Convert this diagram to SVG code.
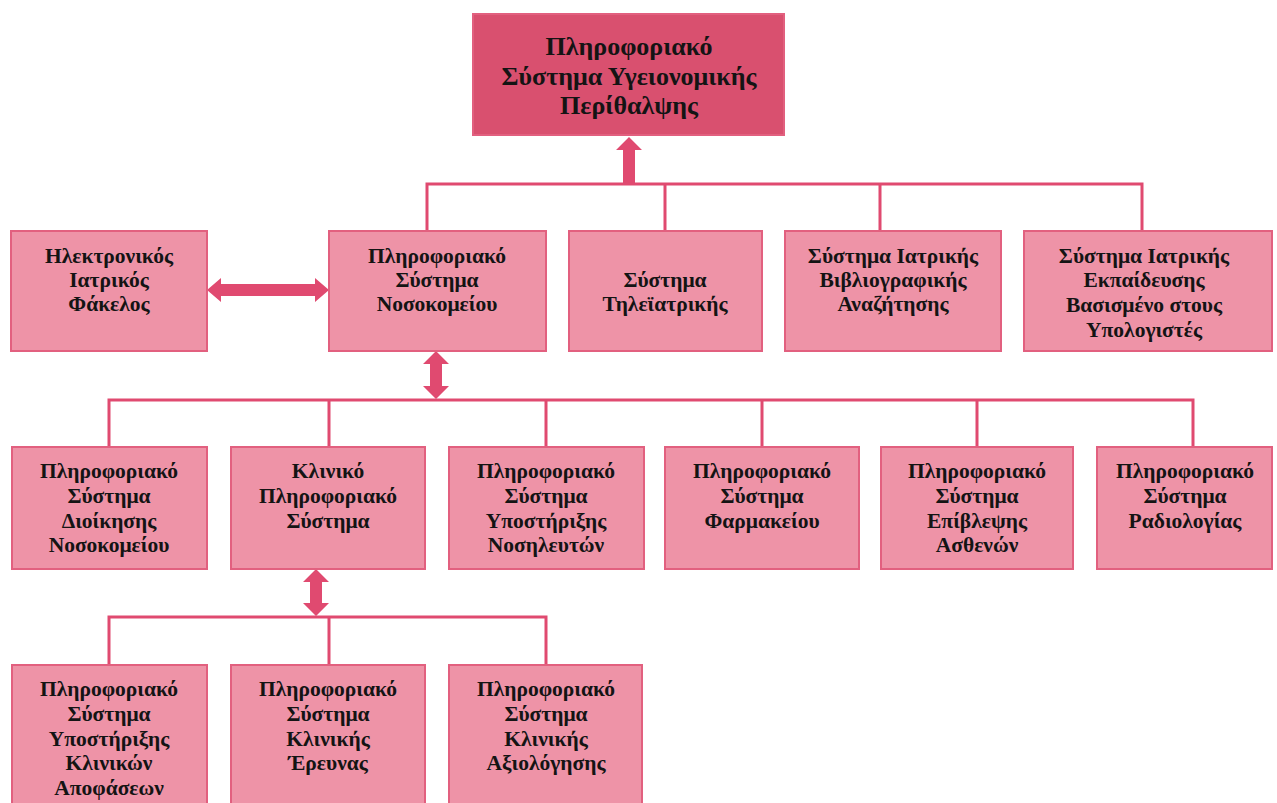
<svg xmlns="http://www.w3.org/2000/svg" width="1277" height="803" viewBox="0 0 1277 803">
  <style>
    .box { fill: #ee93a7; stroke: #e2607f; stroke-width: 2; }
    .root { fill: #d9506f; stroke: #e2607f; stroke-width: 2; }
    .lbl { font-family: "Liberation Serif", "Times New Roman", serif; font-weight: bold; font-size: 21.5px; fill: #141414; text-anchor: middle; }
    .rootlbl { font-size: 26px; }
    .wire { fill: none; stroke: #e04a70; stroke-width: 3; }
    .arrow { fill: #e04a70; }
  </style>
  <rect width="1277" height="803" fill="#ffffff"/>

  <!-- connectors -->
  <g id="connectors">
    <!-- level 1 bus -->
    <path class="wire" d="M427 231 V184 H1142 V231 M665 184 V231 M880 184 V231"/>
    <!-- up arrow into root -->
    <polygon class="arrow" points="623,184 623,150 616,150 629,137 642,150 635,150 635,184"/>
    <!-- horizontal double arrow -->
    <polygon class="arrow" points="207,290 221,278 221,284 315,284 315,278 329,290 315,302 315,296 221,296 221,302"/>
    <!-- level 2 bus -->
    <path class="wire" d="M109 447 V400 H1193 V447 M329 400 V447 M546 400 V447 M762 400 V447 M977 400 V447"/>
    <polygon class="arrow" points="436,351 449,364 442,364 442,386 449,386 436,399 423,386 430,386 430,364 423,364"/>
    <!-- level 3 bus -->
    <path class="wire" d="M109 665 V617 H546 V665 M329 617 V665"/>
    <polygon class="arrow" points="316,569 329,582 322,582 322,603 329,603 316,616 303,603 310,603 310,582 303,582"/>
  </g>

  <g id="n-root">
    <rect class="root" x="473" y="14" width="311" height="121"/>
    <text class="lbl rootlbl" x="629" y="55">Πληροφοριακό</text>
    <text class="lbl rootlbl" x="629" y="85">Σύστημα Υγειονομικής</text>
    <text class="lbl rootlbl" x="629" y="114">Περίθαλψης</text>
  </g>

  <g id="n-ehr">
    <rect class="box" x="11" y="231" width="196" height="120"/>
    <text class="lbl" x="109" y="263">Ηλεκτρονικός</text>
    <text class="lbl" x="109" y="287">Ιατρικός</text>
    <text class="lbl" x="109" y="311">Φάκελος</text>
  </g>
  <g id="n-his">
    <rect class="box" x="329" y="231" width="217" height="120"/>
    <text class="lbl" x="437" y="263">Πληροφοριακό</text>
    <text class="lbl" x="437" y="287">Σύστημα</text>
    <text class="lbl" x="437" y="311">Νοσοκομείου</text>
  </g>
  <g id="n-tele">
    <rect class="box" x="569" y="231" width="193" height="120"/>
    <text class="lbl" x="665" y="287">Σύστημα</text>
    <text class="lbl" x="665" y="311">Τηλεϊατρικής</text>
  </g>
  <g id="n-biblio">
    <rect class="box" x="785" y="231" width="216" height="120"/>
    <text class="lbl" x="893" y="263">Σύστημα Ιατρικής</text>
    <text class="lbl" x="893" y="287">Βιβλιογραφικής</text>
    <text class="lbl" x="893" y="311">Αναζήτησης</text>
  </g>
  <g id="n-edu">
    <rect class="box" x="1024" y="231" width="248" height="120"/>
    <text class="lbl" x="1144" y="263">Σύστημα Ιατρικής</text>
    <text class="lbl" x="1144" y="287">Εκπαίδευσης</text>
    <text class="lbl" x="1144" y="312">Βασισμένο στους</text>
    <text class="lbl" x="1144" y="337">Υπολογιστές</text>
  </g>

  <g id="n-admin">
    <rect class="box" x="12" y="447" width="195" height="122"/>
    <text class="lbl" x="109" y="478">Πληροφοριακό</text>
    <text class="lbl" x="109" y="503">Σύστημα</text>
    <text class="lbl" x="109" y="528">Διοίκησης</text>
    <text class="lbl" x="109" y="552">Νοσοκομείου</text>
  </g>
  <g id="n-clinical">
    <rect class="box" x="231" y="447" width="194" height="122"/>
    <text class="lbl" x="328" y="478">Κλινικό</text>
    <text class="lbl" x="328" y="503">Πληροφοριακό</text>
    <text class="lbl" x="328" y="528">Σύστημα</text>
  </g>
  <g id="n-nursing">
    <rect class="box" x="449" y="447" width="195" height="122"/>
    <text class="lbl" x="546" y="478">Πληροφοριακό</text>
    <text class="lbl" x="546" y="503">Σύστημα</text>
    <text class="lbl" x="546" y="528">Υποστήριξης</text>
    <text class="lbl" x="546" y="552">Νοσηλευτών</text>
  </g>
  <g id="n-pharmacy">
    <rect class="box" x="665" y="447" width="194" height="122"/>
    <text class="lbl" x="762" y="478">Πληροφοριακό</text>
    <text class="lbl" x="762" y="503">Σύστημα</text>
    <text class="lbl" x="762" y="528">Φαρμακείου</text>
  </g>
  <g id="n-monitor">
    <rect class="box" x="881" y="447" width="192" height="122"/>
    <text class="lbl" x="977" y="478">Πληροφοριακό</text>
    <text class="lbl" x="977" y="503">Σύστημα</text>
    <text class="lbl" x="977" y="528">Επίβλεψης</text>
    <text class="lbl" x="977" y="552">Ασθενών</text>
  </g>
  <g id="n-radiology">
    <rect class="box" x="1097" y="447" width="175" height="122"/>
    <text class="lbl" x="1185" y="478">Πληροφοριακό</text>
    <text class="lbl" x="1185" y="503">Σύστημα</text>
    <text class="lbl" x="1185" y="528">Ραδιολογίας</text>
  </g>

  <g id="n-decision">
    <rect class="box" x="12" y="665" width="195" height="150"/>
    <text class="lbl" x="109" y="696">Πληροφοριακό</text>
    <text class="lbl" x="109" y="721">Σύστημα</text>
    <text class="lbl" x="109" y="746">Υποστήριξης</text>
    <text class="lbl" x="109" y="770">Κλινικών</text>
    <text class="lbl" x="109" y="795">Αποφάσεων</text>
  </g>
  <g id="n-research">
    <rect class="box" x="231" y="665" width="194" height="150"/>
    <text class="lbl" x="328" y="696">Πληροφοριακό</text>
    <text class="lbl" x="328" y="721">Σύστημα</text>
    <text class="lbl" x="328" y="746">Κλινικής</text>
    <text class="lbl" x="328" y="770">Έρευνας</text>
  </g>
  <g id="n-evaluation">
    <rect class="box" x="449" y="665" width="193" height="150"/>
    <text class="lbl" x="546" y="696">Πληροφοριακό</text>
    <text class="lbl" x="546" y="721">Σύστημα</text>
    <text class="lbl" x="546" y="746">Κλινικής</text>
    <text class="lbl" x="546" y="770">Αξιολόγησης</text>
  </g>
</svg>
